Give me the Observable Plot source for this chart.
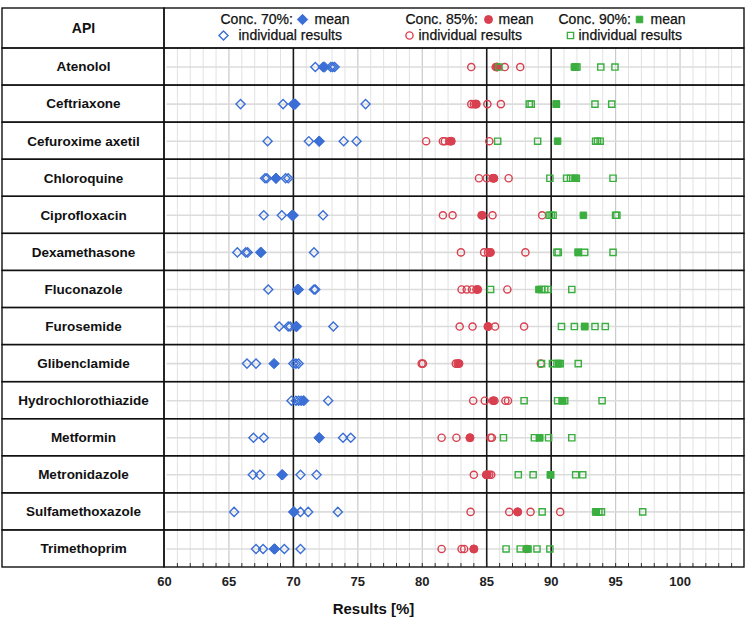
<!DOCTYPE html>
<html><head><meta charset="utf-8">
<script src="https://cdn.jsdelivr.net/npm/d3@7"></script>
<script src="https://cdn.jsdelivr.net/npm/@observablehq/plot@0.6"></script>
<style>
body{margin:0;background:#fff;}
#chart{width:749px;height:626px;}
svg{font-family:"Liberation Sans",Arial,sans-serif;}
</style></head><body><div id="chart"></div>
<script>
// ---------- data ----------
const apis = ["Atenolol","Ceftriaxone","Cefuroxime axetil","Chloroquine","Ciprofloxacin","Dexamethasone","Fluconazole","Furosemide","Glibenclamide","Hydrochlorothiazide","Metformin","Metronidazole","Sulfamethoxazole","Trimethoprim"];

const mean70 = [72.4, 70.05, 72.0, 68.65, 69.9, 67.45, 70.35, 70.25, 68.5, 70.8, 72.0, 69.15, 70.05, 68.55];
const ind70 = [
  [71.7, 72.3, 72.9, 73.05, 73.2],
  [65.9, 69.2, 70.0, 70.15, 75.6],
  [68.0, 71.2, 72.0, 73.9, 74.9],
  [67.8, 67.95, 68.65, 69.4, 69.6],
  [67.7, 69.1, 69.95, 70.0, 72.3],
  [65.65, 66.3, 66.45, 67.5, 71.6],
  [68.05, 70.3, 70.4, 71.6, 71.7],
  [68.9, 69.6, 69.75, 70.2, 73.1],
  [66.4, 67.1, 70.0, 70.2, 70.4],
  [69.85, 70.2, 70.4, 70.6, 72.7],
  [66.9, 67.7, 72.0, 73.85, 74.45],
  [66.85, 67.4, 69.1, 70.55, 71.8],
  [65.4, 70.0, 70.55, 71.15, 73.45],
  [67.1, 67.65, 68.5, 69.3, 70.55]
];

const mean85 = [85.8, 84.15, 82.25, 85.55, 84.65, 85.25, 84.3, 85.1, 82.85, 85.5, 83.7, 85.0, 87.4, 84.0];
const ind85 = [
  [83.8, 85.7, 85.8, 86.4, 87.6],
  [83.8, 84.0, 84.2, 85.05, 86.1],
  [80.3, 81.6, 81.75, 82.1, 85.2],
  [84.4, 85.0, 85.45, 85.55, 86.7],
  [81.6, 82.35, 84.6, 85.45, 89.3],
  [83.0, 84.8, 85.1, 85.3, 88.0],
  [83.05, 83.45, 83.85, 84.2, 86.6],
  [82.9, 83.9, 85.1, 85.65, 87.9],
  [79.95, 80.05, 82.6, 82.75, 89.2],
  [83.95, 84.85, 85.6, 86.45, 86.65],
  [81.5, 82.65, 83.7, 85.3, 85.4],
  [84.0, 84.95, 85.05, 85.2, 85.35],
  [83.75, 86.75, 87.4, 88.4, 90.7],
  [81.5, 83.05, 83.25, 84.0, 88.1]
];

const mean90 = [91.8, 90.4, 90.5, 91.85, 92.5, 92.1, 89.05, 92.6, 90.6, 90.85, 89.1, 89.95, 93.45, 88.15];
const ind90 = [
  [85.95, 91.9, 92.0, 93.85, 94.95],
  [88.3, 88.45, 90.4, 93.4, 94.7],
  [85.85, 88.95, 93.45, 93.6, 93.8],
  [89.9, 91.2, 91.5, 91.95, 94.8],
  [89.85, 90.0, 90.15, 95.0, 95.1],
  [90.45, 90.55, 92.1, 92.6, 94.8],
  [85.3, 89.25, 89.5, 89.75, 91.6],
  [90.8, 91.8, 92.6, 93.4, 94.2],
  [89.25, 90.1, 90.45, 90.7, 92.1],
  [87.9, 90.5, 90.9, 91.05, 93.95],
  [86.3, 88.7, 89.1, 89.8, 91.6],
  [87.45, 88.6, 89.95, 91.9, 92.45],
  [89.3, 93.5, 93.7, 93.9, 97.1],
  [86.5, 87.6, 88.2, 88.9, 89.9]
];

const tickLabels = [60, 65, 70, 75, 80, 85, 90, 95, 100];
const refLines = [70, 85, 90];
const xLabel = "Results [%]";
const headerLabel = "API";
const legendItems = [
  {conc: "Conc. 70%:", mean: "mean", ind: "individual results"},
  {conc: "Conc. 85%:", mean: "mean", ind: "individual results"},
  {conc: "Conc. 90%:", mean: "mean", ind: "individual results"}
];

// ---------- layout ----------
const W = 749, H = 626;
const mL = 2, mR = 5, mT = 8, mB = 59;
const x60px = 164, hdrBottomPx = 48;
const xMin = 60, xMax = 105;
const pxPer = (W - mR - x60px) / (xMax - xMin);
const xLeft = xMin - (x60px - mL) / pxPer;
const nRows = apis.length;
const rowH = (H - mB - hdrBottomPx) / nRows;
const hdr = (hdrBottomPx - mT) / rowH;

const blue = "#3b6fd6", red = "#d9404f", green = "#3aae3f";

function pts(arr) {
  const out = [];
  arr.forEach((vals, i) => vals.forEach(v => out.push({row: i + 0.5, v})));
  return out;
}
const means = (arr) => arr.map((v, i) => ({row: i + 0.5, v}));
const rows = apis.map((name, i) => ({name, y1: i, y2: i + 1, yc: i + 0.5}));
const cols = [{x1: xLeft, x2: xMin}, {x1: xMin, x2: xMax}];
const cells = [];
[{y1: -hdr, y2: 0}, ...rows].forEach(r => cols.forEach(c => cells.push({...c, y1: r.y1, y2: r.y2})));

const minor = d3.range(61, 105).filter(v => v % 5 !== 0);
const major = d3.range(65, 105, 5).filter(v => !refLines.includes(v));

// marker styles
const syms = ["diamond2", "circle", "square"];
const cols3 = [blue, red, green];
const rMean = [4.7, 4.0, 3.7], rInd = [4.1, 3.6, 3.5];

// legend layout (pixel offsets from frame top-left)
const legX = [218, 403, 556];
const legDot = [[300, 221], [486, 407], [637, 568]];
const legMean = [312, 496, 648];
const legInd = [236, 416, 576];
const ly1 = 11, ly2 = 27;
const legMarks = [];
const legFont = {textAnchor: "start", lineAnchor: "middle", fontSize: 14, fill: "#111", stroke: "#111", strokeWidth: 0.25};
legendItems.forEach((it, k) => {
  legMarks.push(Plot.text([it.conc], {frameAnchor: "top-left", dx: legX[k], dy: ly1, ...legFont}));
  legMarks.push(Plot.dot([0], {frameAnchor: "top-left", dx: legDot[k][0], dy: ly1, symbol: syms[k], r: rMean[k], fill: cols3[k], stroke: cols3[k], strokeWidth: 1}));
  legMarks.push(Plot.text([it.mean], {frameAnchor: "top-left", dx: legMean[k], dy: ly1, ...legFont}));
  legMarks.push(Plot.dot([0], {frameAnchor: "top-left", dx: legDot[k][1], dy: ly2, symbol: syms[k], r: rInd[k], fill: "none", stroke: cols3[k], strokeWidth: 1.4}));
  legMarks.push(Plot.text([it.ind], {frameAnchor: "top-left", dx: legInd[k], dy: ly2, ...legFont}));
});

const chart = Plot.plot({
  width: W, height: H,
  marginLeft: mL, marginRight: mR, marginTop: mT, marginBottom: mB,
  x: {domain: [xLeft, xMax], axis: null},
  y: {domain: [-hdr, nRows], reverse: true, axis: null},
  style: {background: "#fff"},
  marks: [
    Plot.ruleX(minor, {y1: 0, y2: nRows, stroke: "#e2e2e2", strokeWidth: 1}),
    Plot.ruleX(major, {y1: 0, y2: nRows, stroke: "#cacaca", strokeWidth: 1.2}),
    Plot.ruleY(rows, {y: "yc", x1: xMin + 0.2, x2: xMax - 0.2, stroke: "#dcdcdc", strokeWidth: 1.6}),
    Plot.ruleX(refLines, {y1: 0, y2: nRows, stroke: "#1a1a1a", strokeWidth: 1.6}),
    Plot.ruleX(d3.range(61, 105), {y1: nRows, y2: nRows - 4 / rowH, stroke: "#333", strokeWidth: 1}),
    Plot.rect(cells, {x1: "x1", x2: "x2", y1: "y1", y2: "y2", fill: "none", stroke: "#111", strokeWidth: 1.4}),
    // 70%
    Plot.dot(pts(ind70), {x: "v", y: "row", symbol: syms[0], r: rInd[0], fill: "none", stroke: blue, strokeWidth: 1.4}),
    Plot.dot(means(mean70), {x: "v", y: "row", symbol: syms[0], r: rMean[0], fill: blue, stroke: blue, strokeWidth: 1}),
    // 85%
    Plot.dot(pts(ind85), {x: "v", y: "row", symbol: syms[1], r: rInd[1], fill: "none", stroke: red, strokeWidth: 1.4}),
    Plot.dot(means(mean85), {x: "v", y: "row", symbol: syms[1], r: rMean[1], fill: red, stroke: red, strokeWidth: 1}),
    // 90%
    Plot.dot(pts(ind90), {x: "v", y: "row", symbol: syms[2], r: rInd[2], fill: "none", stroke: green, strokeWidth: 1.4}),
    Plot.dot(means(mean90), {x: "v", y: "row", symbol: syms[2], r: rMean[2], fill: green, stroke: green, strokeWidth: 1}),
    // row labels
    Plot.text(rows, {x: (xLeft + xMin) / 2, y: "yc", text: "name", fontSize: 13.5, fontWeight: "bold", fill: "#111"}),
    Plot.text([headerLabel], {x: (xLeft + xMin) / 2, y: -hdr / 2, fontSize: 14, fontWeight: "bold", fill: "#111"}),
    // x axis
    Plot.axisX(tickLabels, {anchor: "bottom", tickSize: 0, tickPadding: 9, fontSize: 13, fontWeight: "bold", fill: "#222", label: null}),
    Plot.text([xLabel], {frameAnchor: "bottom", dy: 42, lineAnchor: "middle", fontSize: 15, fontWeight: "bold", fill: "#111"}),
    ...legMarks
  ]
});
document.getElementById("chart").appendChild(chart);
</script></body></html>
